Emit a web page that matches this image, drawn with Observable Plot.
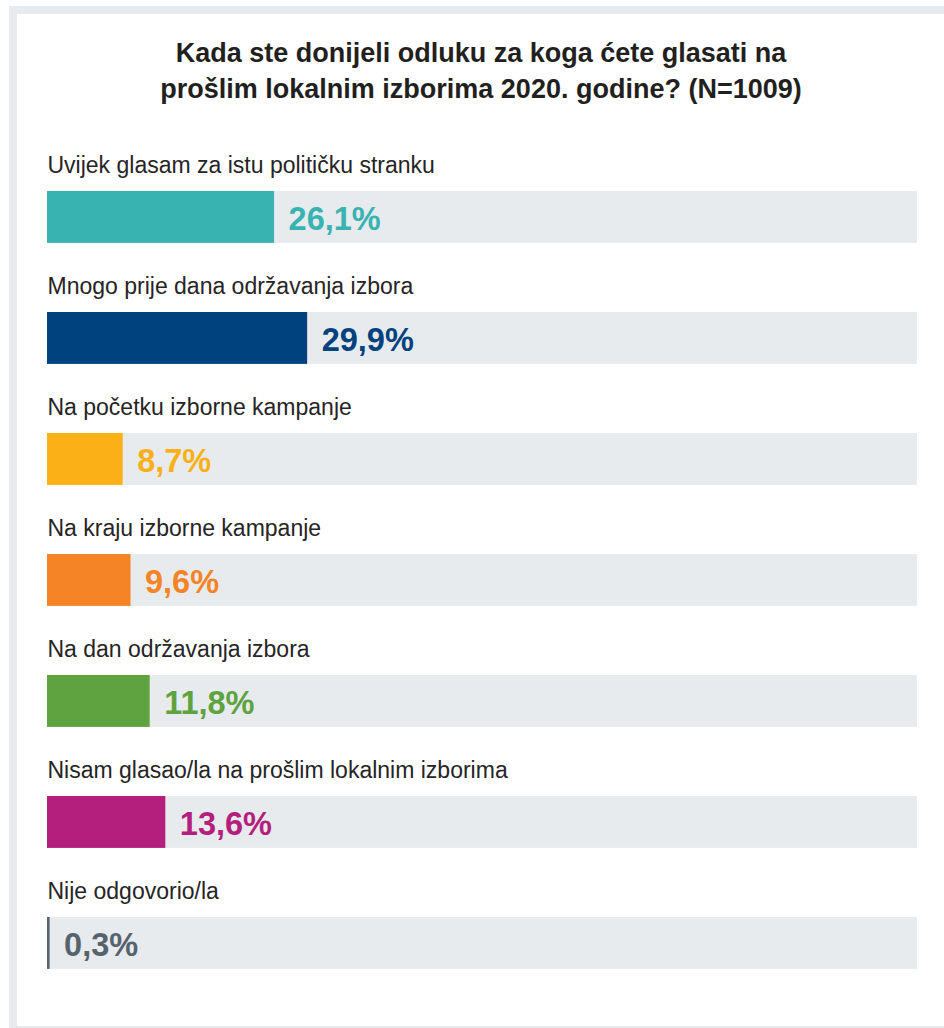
<!DOCTYPE html>
<html>
<head>
<meta charset="utf-8">
<script src="https://cdn.jsdelivr.net/npm/d3@7"></script>
<script src="https://cdn.jsdelivr.net/npm/@observablehq/plot@0.6"></script>
<style>
  html, body { margin: 0; padding: 0; background: #fff; overflow: hidden; }
  body { width: 944px; height: 1028px; position: relative; font-family: "Liberation Sans", Arial, Helvetica, sans-serif; }
  #frame { position: absolute; left: 9px; top: 6px; width: 960px; height: 1028px; border: 8px solid #e8ebee; box-sizing: border-box; }
  #title { position: absolute; left: 17px; width: 928px; top: 34.6px; text-align: center; font-size: 27px; line-height: 36px; font-weight: bold; color: #231f20; }
  #chart { position: absolute; left: 0; top: 120px; }
</style>
</head>
<body>
<div id="frame"></div>
<div id="title">Kada ste donijeli odluku za koga ćete glasati na<br>prošlim lokalnim izborima 2020. godine? (N=1009)</div>
<div id="chart"></div>
<script>
const categories = [
  "Uvijek glasam za istu političku stranku",
  "Mnogo prije dana održavanja izbora",
  "Na početku izborne kampanje",
  "Na kraju izborne kampanje",
  "Na dan održavanja izbora",
  "Nisam glasao/la na prošlim lokalnim izborima",
  "Nije odgovorio/la"
];
const values = [26.1, 29.9, 8.7, 9.6, 11.8, 13.6, 0.3];
const valueLabels = ["26,1%", "29,9%", "8,7%", "9,6%", "11,8%", "13,6%", "0,3%"];
const colors = ["#38b3b1", "#00427e", "#fbb017", "#f48426", "#5ea33f", "#b41f7e", "#56636d"];

const data = categories.map((c, i) => ({category: c, value: values[i], label: valueLabels[i]}));

const font = "'Liberation Sans', Arial, Helvetica, sans-serif";

const chart = Plot.plot({
  width: 944,
  height: 908,
  marginLeft: 47,
  marginRight: 27,
  marginTop: 27.5,
  marginBottom: 29.3,
  style: {background: "transparent", fontFamily: font, overflow: "visible"},
  x: {domain: [0, 100], axis: null},
  y: {domain: categories, axis: null, padding: 0},
  color: {domain: categories, range: colors},
  marks: [
    Plot.barX(data, {x1: 0, x2: 100, y: "category", fill: "#e8ebee", insetTop: 41, insetBottom: 28.1}),
    Plot.barX(data, {x1: 0, x2: "value", y: "category", fill: "category", insetTop: 41, insetBottom: 28.1}),
    Plot.text(data, {x: 0, y: "category", text: "category", textAnchor: "start", lineAnchor: "bottom", dy: -38.2, fontSize: 23, fill: "#262425"}),
    Plot.text(data, {x: "value", y: "category", text: "label", textAnchor: "start", lineAnchor: "bottom", dy: 19.4, dx: 14, fontSize: 32.5, fontWeight: "bold", fill: "category"})
  ]
});
document.getElementById("chart").appendChild(chart);
</script>
</body>
</html>
